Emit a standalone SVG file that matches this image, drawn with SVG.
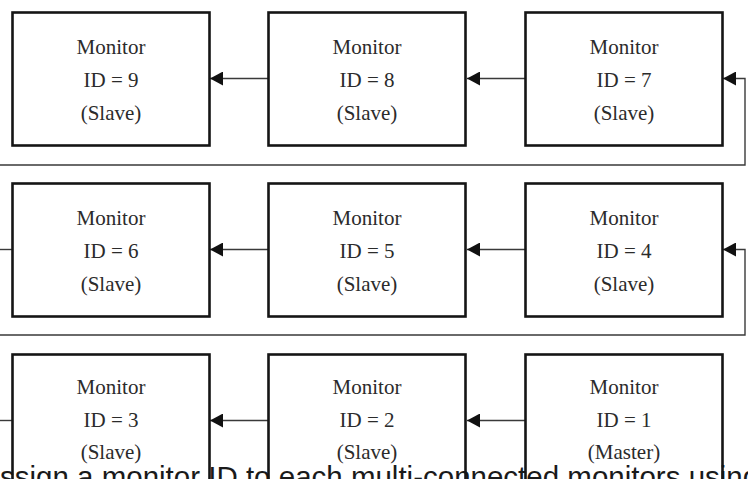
<svg xmlns="http://www.w3.org/2000/svg" width="748" height="479" viewBox="0 0 748 479">
<style>
.box{fill:none;stroke:#151515;stroke-width:2.6}
.lbl{font-family:"Liberation Serif","Times New Roman",serif;font-size:21px;fill:#2b2b2b;text-anchor:middle}
.conn{fill:none;stroke:#3a3a3a;stroke-width:1.4}
.cap{font-family:"Liberation Sans",Arial,sans-serif;font-size:29.5px;fill:#1a1a1a}
</style>
<defs>
<marker id="ah" viewBox="0 0 13 14" refX="13" refY="7" markerWidth="13" markerHeight="14" markerUnits="userSpaceOnUse" orient="auto">
<path d="M0,0 L13,7 L0,14 Z" fill="#111"/>
</marker>
</defs>
<rect width="748" height="479" fill="#fff"/>
<text class="cap" x="0" y="487">ssign a monitor ID to each multi-connected monitors using</text>
<g id="connectors">
<line class="conn" x1="268" y1="78.5" x2="210" y2="78.5" marker-end="url(#ah)"/>
<line class="conn" x1="526" y1="78.5" x2="467" y2="78.5" marker-end="url(#ah)"/>
<path class="conn" d="M0,165 H745 V78.5 H723" marker-end="url(#ah)"/>
<line class="conn" x1="0" y1="249.5" x2="12" y2="249.5"/>
<line class="conn" x1="268" y1="249.5" x2="210" y2="249.5" marker-end="url(#ah)"/>
<line class="conn" x1="526" y1="249.5" x2="467" y2="249.5" marker-end="url(#ah)"/>
<path class="conn" d="M0,335 H745 V249.5 H723" marker-end="url(#ah)"/>
<line class="conn" x1="0" y1="420.5" x2="12" y2="420.5"/>
<line class="conn" x1="268" y1="420.5" x2="210" y2="420.5" marker-end="url(#ah)"/>
<line class="conn" x1="526" y1="420.5" x2="467" y2="420.5" marker-end="url(#ah)"/>
</g>
<g id="monitor9"><rect class="box" x="12.5" y="12.5" width="197" height="133"/><text class="lbl" x="111" y="54">Monitor</text><text class="lbl" x="111" y="87">ID = 9</text><text class="lbl" x="111" y="120">(Slave)</text></g>
<g id="monitor8"><rect class="box" x="268.5" y="12.5" width="197" height="133"/><text class="lbl" x="367" y="54">Monitor</text><text class="lbl" x="367" y="87">ID = 8</text><text class="lbl" x="367" y="120">(Slave)</text></g>
<g id="monitor7"><rect class="box" x="525.5" y="12.5" width="197" height="133"/><text class="lbl" x="624" y="54">Monitor</text><text class="lbl" x="624" y="87">ID = 7</text><text class="lbl" x="624" y="120">(Slave)</text></g>
<g id="monitor6"><rect class="box" x="12.5" y="183.5" width="197" height="133"/><text class="lbl" x="111" y="225">Monitor</text><text class="lbl" x="111" y="258">ID = 6</text><text class="lbl" x="111" y="291">(Slave)</text></g>
<g id="monitor5"><rect class="box" x="268.5" y="183.5" width="197" height="133"/><text class="lbl" x="367" y="225">Monitor</text><text class="lbl" x="367" y="258">ID = 5</text><text class="lbl" x="367" y="291">(Slave)</text></g>
<g id="monitor4"><rect class="box" x="525.5" y="183.5" width="197" height="133"/><text class="lbl" x="624" y="225">Monitor</text><text class="lbl" x="624" y="258">ID = 4</text><text class="lbl" x="624" y="291">(Slave)</text></g>
<g id="monitor3"><rect class="box" x="12.5" y="354.5" width="197" height="133"/><text class="lbl" x="111" y="394">Monitor</text><text class="lbl" x="111" y="427">ID = 3</text><text class="lbl" x="111" y="459">(Slave)</text></g>
<g id="monitor2"><rect class="box" x="268.5" y="354.5" width="197" height="133"/><text class="lbl" x="367" y="394">Monitor</text><text class="lbl" x="367" y="427">ID = 2</text><text class="lbl" x="367" y="459">(Slave)</text></g>
<g id="monitor1"><rect class="box" x="525.5" y="354.5" width="197" height="133"/><text class="lbl" x="624" y="394">Monitor</text><text class="lbl" x="624" y="427">ID = 1</text><text class="lbl" x="624" y="459">(Master)</text></g>
</svg>
